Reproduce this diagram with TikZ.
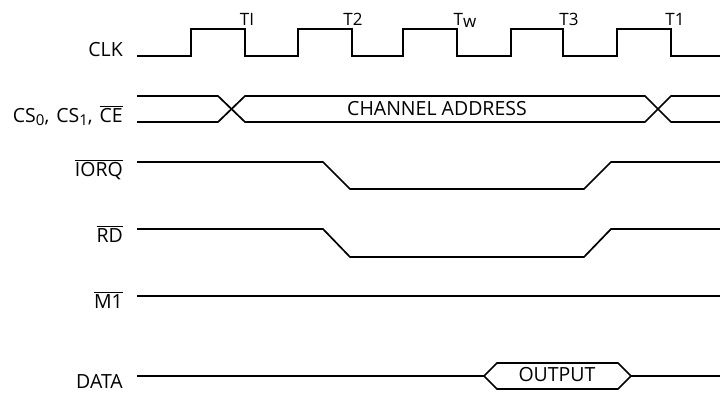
\documentclass[tikz,border=0pt]{standalone}
\usepackage{fontspec}
\setmainfont{Open Sans}
\newcommand{\lowdig}[1]{\raisebox{-3.5pt}{\fontsize{15}{16}\selectfont #1}}
\begin{document}
\begin{tikzpicture}[x=1pt,y=-1pt,
  wave/.style={line width=1.7pt, line join=miter},
  siglabel/.style={anchor=base east, inner sep=0pt, text depth=0pt, font=\fontsize{19.5}{21}\selectfont},
  tlabel/.style={anchor=base, inner sep=0pt, font=\fontsize{17}{18}\selectfont},
  intext/.style={anchor=base, inner sep=0pt, text depth=0pt, font=\fontsize{19.5}{21}\selectfont}]
\useasboundingbox (0,0) rectangle (720,392);
% labels
\node[siglabel] (clk) at (123,56) {CLK};
\node[siglabel] (cs) at (123,122) {CS\lowdig{0},\hspace{7pt}CS\lowdig{1},\hspace{7pt}$\overline{\mbox{CE}}$};
\node[siglabel] (iorq) at (123,176) {$\overline{\mbox{IORQ}}$};
\node[siglabel] (rd) at (123,242) {$\overline{\mbox{RD}}$};
\node[siglabel] (m1) at (123,308) {$\overline{\mbox{M1}}$};
\node[siglabel] (data) at (123,388) {DATA};
% T labels
\node[tlabel] (t1a) at (247,25) {TI};
\node[tlabel] (t2) at (353,25) {T2};
\node[tlabel] (tw) at (465,25) {T\raisebox{-2.5pt}{w}};
\node[tlabel] (t3) at (569,25) {T3};
\node[tlabel] (t1b) at (675,25) {T1};
% CLK
\draw[wave] (137,56) -- (191,56) -- (191,29) -- (245,29) -- (245,56)
  -- (298,56) -- (298,29) -- (352,29) -- (352,56)
  -- (403,56) -- (403,29) -- (457,29) -- (457,56)
  -- (511,56) -- (511,29) -- (563,29) -- (563,56)
  -- (617,56) -- (617,29) -- (671,29) -- (671,56) -- (720,56);
% CS bus
\draw[wave] (137,96) -- (218,96) -- (245,122) -- (645,122) -- (671,96) -- (720,96);
\draw[wave] (137,122) -- (218,122) -- (245,96) -- (645,96) -- (671,122) -- (720,122);
\node[intext] (chaddr) at (437,115) {CHANNEL ADDRESS};
% IORQ
\draw[wave] (137,162) -- (323,162) -- (350,189) -- (584,189) -- (611,162) -- (720,162);
% RD
\draw[wave] (137,229) -- (323,229) -- (350,257) -- (584,257) -- (611,229) -- (720,229);
% M1
\draw[wave] (137,296) -- (720,296);
% DATA
\draw[wave] (137,376) -- (484,376) -- (497,363) -- (618,363) -- (631,376) -- (720,376);
\draw[wave] (484,376) -- (497,389) -- (618,389) -- (631,376);
\node[intext] (out) at (557,381) {OUTPUT};
\end{tikzpicture}
\end{document}
